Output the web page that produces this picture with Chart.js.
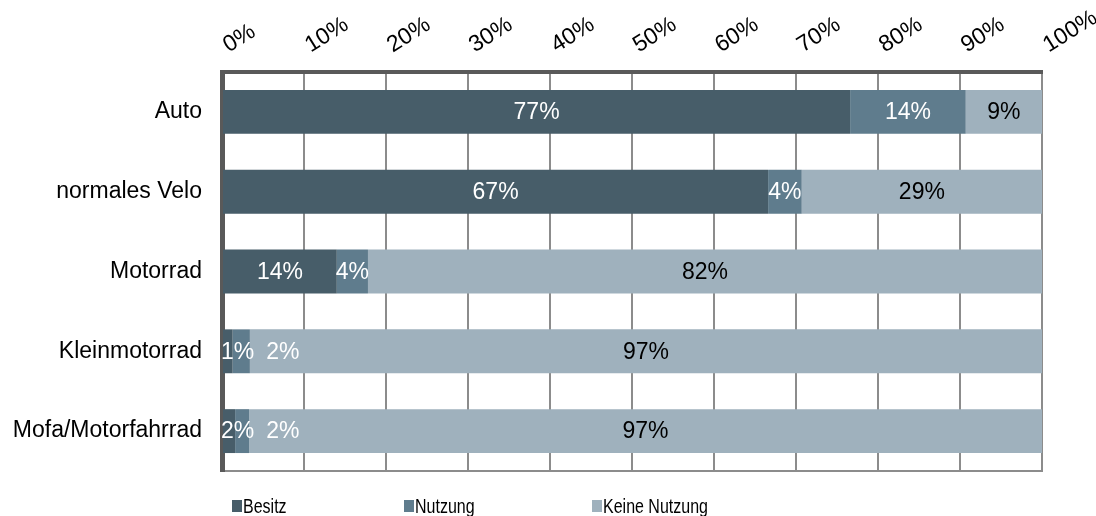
<!DOCTYPE html>
<html>
<head>
<meta charset="utf-8">
<script src="https://cdn.jsdelivr.net/npm/chart.js@4/dist/chart.umd.min.js"></script>
<style>
  body { margin: 0; background: #fff; }
  #wrap { position: relative; width: 1096px; height: 516px; }
  #legend {
    position: absolute; left: 232px; top: 496px;
    display: flex;
    font: 20px "Liberation Sans", Arial, sans-serif;
    line-height: 20px; color: #000;
  }
  #legend .item { display: flex; align-items: center; white-space: nowrap; }
  #legend .item:nth-child(1) { width: 172px; }
  #legend .item:nth-child(2) { width: 188px; }
  #legend .box { width: 10px; height: 12px; margin-right: 1px; flex: none; }
  #legend .txt { display: inline-block; transform: scaleX(0.8); transform-origin: 0 50%; }
</style>
</head>
<body>
<div id="wrap">
  <canvas id="myChart"></canvas>
  <div id="legend"></div>
</div>
<script>
const categories = ['Auto', 'normales Velo', 'Motorrad', 'Kleinmotorrad', 'Mofa/Motorfahrrad'];
const besitz = [76.6, 66.6, 14.0, 1.3, 1.6];
const nutzung = [14.1, 4.1, 3.8, 2.1, 1.7];
const keineNutzung = [9.3, 29.3, 82.2, 96.6, 96.7];
const tickValues = [0, 10, 20, 30, 40, 50, 60, 70, 80, 90, 100];

const font = '"Liberation Sans", Arial, sans-serif';
const ctx = document.getElementById('myChart').getContext('2d');

// percent labels inside the bars, pushed right when a segment is too thin
const barLabels = {
  id: 'barLabels',
  afterDatasetsDraw(chart) {
    const c = chart.ctx;
    const area = chart.chartArea;
    const lastRight = [];
    c.save();
    c.font = '23px ' + font;
    c.textAlign = 'center';
    c.textBaseline = 'middle';
    chart.data.datasets.forEach((ds, di) => {
      chart.getDatasetMeta(di).data.forEach((bar, i) => {
        const text = Math.round(ds.data[i]) + '%';
        const half = c.measureText(text).width / 2;
        let x = Math.max((bar.x + bar.base) / 2, area.left + half - 1);
        if (lastRight[i] !== undefined) x = Math.max(x, lastRight[i] + 12 + half);
        lastRight[i] = x + half;
        c.fillStyle = ds.labelColor;
        c.fillText(text, x, bar.y + 1);
      });
    });
    c.restore();
  }
};

const htmlLegend = {
  id: 'htmlLegend',
  afterUpdate(chart) {
    const box = document.getElementById('legend');
    box.innerHTML = '';
    const items = chart.options.plugins.legend.labels.generateLabels(chart);
    items.forEach(item => {
      const el = document.createElement('div');
      el.className = 'item';
      const sw = document.createElement('span');
      sw.className = 'box';
      sw.style.background = item.fillStyle;
      const tx = document.createElement('span');
      tx.className = 'txt';
      tx.textContent = item.text;
      el.appendChild(sw);
      el.appendChild(tx);
      box.appendChild(el);
    });
  }
};

const chart = new Chart(ctx, {
  type: 'bar',
  data: {
    labels: categories,
    datasets: [{
      label: 'Besitz',
      data: besitz,
      backgroundColor: '#475d69',
      labelColor: '#fff'
    }, {
      label: 'Nutzung',
      data: nutzung,
      backgroundColor: '#5f7c8d',
      labelColor: '#fff'
    }, {
      label: 'Keine Nutzung',
      data: keineNutzung,
      backgroundColor: '#9fb1bd',
      labelColor: '#000'
    }]
  },
  options: {
    indexAxis: 'y',
    responsive: true,
    maintainAspectRatio: false,
    animation: false,
    layout: { padding: { top: 0, right: 54, bottom: 45, left: 0 } },
    datasets: {
      bar: { barPercentage: 0.55, categoryPercentage: 1, borderWidth: 0 }
    },
    scales: {
      x: {
        position: 'top',
        stacked: true,
        min: 0,
        max: 100,
        afterBuildTicks: scale => {
          scale.ticks = tickValues.map(v => ({ value: v }));
        },
        afterFit: scale => {
          scale.height = 72;
          scale.paddingLeft = 0;
          scale.paddingRight = 0;
        },
        ticks: {
          minRotation: 32,
          maxRotation: 32,
          padding: 13,
          labelOffset: 18,
          color: '#000',
          font: { family: font, size: 23 },
          callback: v => v + '%'
        },
        grid: { color: '#8c8c8c', lineWidth: 2, drawTicks: false },
        border: { color: '#595959', width: 4 }
      },
      x2: {
        type: 'linear',
        position: 'bottom',
        min: 0,
        max: 100,
        afterFit: scale => { scale.height = 0; },
        ticks: { display: false },
        grid: { display: false, drawTicks: false },
        border: { color: '#8c8c8c', width: 2 }
      },
      y: {
        stacked: true,
        z: 1,
        afterFit: scale => { scale.width = 222; },
        ticks: {
          padding: 20,
          color: '#000',
          font: { family: font, size: 23 }
        },
        grid: { display: false, drawTicks: false },
        border: { color: '#595959', width: 5 }
      }
    },
    plugins: {
      legend: { display: false },
      tooltip: { enabled: false }
    }
  },
  plugins: [barLabels, htmlLegend]
});
</script>
</body>
</html>
